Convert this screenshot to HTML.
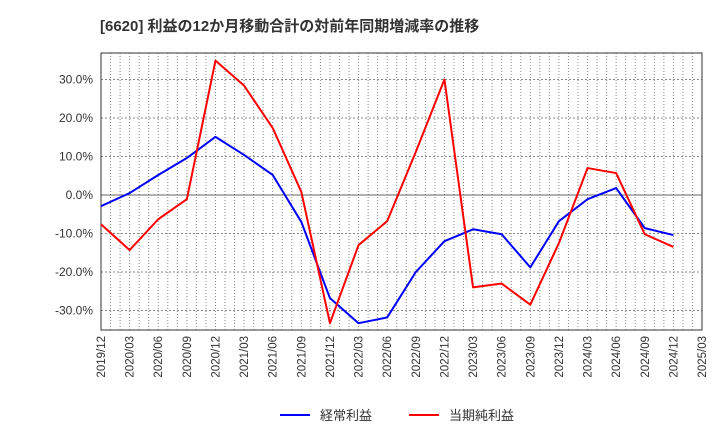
<!DOCTYPE html>
<html><head><meta charset="utf-8"><style>
body{margin:0;background:#fff;font-family:"Liberation Sans","Noto Sans CJK JP",sans-serif}
</style></head><body>
<svg id="c" width="720" height="440" xmlns="http://www.w3.org/2000/svg">
<text x="100" y="31" font-size="15" font-weight="bold" fill="#333" font-family="Liberation Sans, Noto Sans CJK JP, sans-serif">[6620]  利益の12か月移動合計の対前年同期増減率の推移</text>
<g id="grid"></g><g id="axes"></g><g id="series"></g>
<g>
<line x1="280" y1="415" x2="310" y2="415" stroke="#0000ff" stroke-width="2"/>
<text x="320" y="420" font-size="13" fill="#333" font-family="Liberation Sans, Noto Sans CJK JP, sans-serif">経常利益</text>
<line x1="409" y1="415" x2="439" y2="415" stroke="#ff0000" stroke-width="2"/>
<text x="449" y="420" font-size="13" fill="#333" font-family="Liberation Sans, Noto Sans CJK JP, sans-serif">当期純利益</text>
</g>
</svg>
<script>
const categories=["2019/12","2020/03","2020/06","2020/09","2020/12","2021/03","2021/06","2021/09","2021/12","2022/03","2022/06","2022/09","2022/12","2023/03","2023/06","2023/09","2023/12","2024/03","2024/06","2024/09","2024/12","2025/03"];
const ordinary=[-2.9,0.5,5.2,9.6,15.1,10.4,5.2,-7,-26.8,-33.3,-31.8,-20,-12,-8.9,-10.2,-18.8,-6.8,-1.1,1.8,-8.6,-10.4];
const net=[-7.6,-14.3,-6.3,-1.1,34.9,28.4,17.4,0.8,-33.3,-13,-6.8,11.2,30,-24,-23,-28.5,-12.5,7,5.7,-10.2,-13.5];
const yTicks=[30,20,10,0,-10,-20,-30];
const L=101,R=702,T=53,B=330;
const NS="http://www.w3.org/2000/svg";
const xs=i=>L+(R-L)*i/(categories.length-1);
const ys=v=>195-v*3.85;
function mk(p,t,a){const e=document.createElementNS(NS,t);for(const k in a)e.setAttribute(k,a[k]);p.appendChild(e);return e;}
const g=document.getElementById('grid'),ax=document.getElementById('axes'),s=document.getElementById('series');
for(let m=0;m<=63;m++){const x=L+(R-L)*m/63;const l=mk(g,'line',{x1:x,y1:T,x2:x,y2:B,stroke:'#888','stroke-width':1,'stroke-dasharray':'1,2'});

}
yTicks.forEach(v=>{const y=ys(v);const l=mk(g,'line',{x1:L,y1:y,x2:R,y2:y,stroke:v===0?'#666':'#888','stroke-width':1,'stroke-dasharray':v===0?'':'2,2'});


const t=mk(ax,'text',{x:L-8,y:y+4,'text-anchor':'end','font-size':12,fill:'#333'});t.textContent=v.toFixed(1)+'%';

});
const fr=mk(ax,'rect',{x:L,y:T,width:R-L,height:B-T,fill:'none',stroke:'#333','stroke-width':1});


categories.forEach((c,i)=>{const x=xs(i);const t=mk(ax,'text',{x:x+4,y:B+6,'text-anchor':'end','font-size':11.5,fill:'#333',transform:`rotate(-90 ${x+4} ${B+6})`});t.textContent=c;

});
function line(d,col,name){const p=mk(s,'polyline',{points:d.map((v,i)=>xs(i)+','+ys(v)).join(' '),fill:'none',stroke:col,'stroke-width':2,'stroke-linejoin':'round'});

}
line(ordinary,'#0000ff','ordinary-profit-line');
line(net,'#ff0000','net-profit-line');
</script>
</body></html>
